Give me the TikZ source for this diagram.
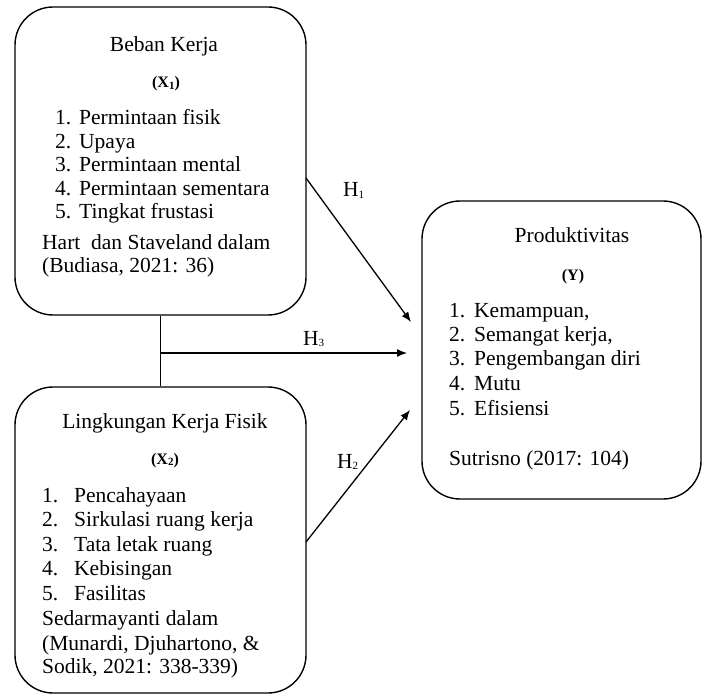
\documentclass[tikz,border=0pt]{standalone}
\usepackage{fontspec}
\setmainfont{Liberation Serif}
\usetikzlibrary{arrows.meta}
\newcommand\mysub[1]{\raisebox{-1.5pt}{\fontsize{11}{11}\selectfont #1}}
\begin{document}
\begin{tikzpicture}[x=1pt,y=-1pt,
  box/.style={draw, line width=1.4pt, rounded corners=38pt, inner sep=0pt},
  txt/.style={font=\fontsize{21.5}{24}\selectfont, inner sep=0pt, anchor=base west},
  ctr/.style={txt, anchor=base},
  lab/.style={font=\fontsize{16}{18}\selectfont\bfseries, inner sep=0pt, anchor=base},
  conn/.style={line width=1.3pt},
  arr/.style={conn, -{Latex[length=10pt,width=8pt]}}]
\useasboundingbox (0,0) rectangle (702,695);
% boxes
\node[box, minimum width=291pt, minimum height=308pt] (x1) at (160.5,161) {};
\node[box, minimum width=291pt, minimum height=306pt] (x2) at (160.5,540) {};
\node[box, minimum width=279pt, minimum height=298pt] (y) at (561.5,350) {};
% X1 text
\node[ctr] (x1t) at (164,52) {Beban Kerja};
\node[lab] (x1v) at (166,88) {(X\mysub{1})};
\foreach \t [count=\i] in {Permintaan fisik, Upaya, Permintaan mental, Permintaan sementara, Tingkat frustasi} {
  \node[txt] (x1n\i) at (55,{125+23.5*(\i-1)}) {\i.};
  \node[txt] (x1i\i) at (79,{125+23.5*(\i-1)}) {\t};
}
\node[txt] (x1c1) at (42,250) {Hart\ \ dan Staveland dalam};
\node[txt] (x1c2) at (42,273) {(Budiasa, 2021: 36)};
% X2 text
\node[ctr] (x2t) at (165,428) {Lingkungan Kerja Fisik};
\node[lab] (x2v) at (165,464) {(X\mysub{2})};
\foreach \t [count=\i] in {Pencahayaan, Sirkulasi ruang kerja, Tata letak ruang, Kebisingan, Fasilitas} {
  \node[txt] (x2n\i) at (42,{502+24.5*(\i-1)}) {\i.};
  \node[txt] (x2i\i) at (74,{502+24.5*(\i-1)}) {\t};
}
\node[txt] (x2c1) at (42,625) {Sedarmayanti dalam};
\node[txt] (x2c2) at (42,650) {(Munardi, Djuhartono, \&};
\node[txt] (x2c3) at (42,673) {Sodik, 2021: 338-339)};
% Y text
\node[ctr] (yt) at (572,243) {Produktivitas};
\node[lab] (yv) at (573,280) {(Y)};
\foreach \t [count=\i] in {{Kemampuan,}, {Semangat kerja,}, Pengembangan diri, Mutu, Efisiensi} {
  \node[txt] (yn\i) at (449,{317+24.5*(\i-1)}) {\i.};
  \node[txt] (yi\i) at (474,{317+24.5*(\i-1)}) {\t};
}
\node[txt] (yc) at (449,465) {Sutrisno (2017: 104)};
% hypothesis labels
\node[txt] (h1) at (343,197) {H\mysub{1}};
\node[txt] (h3) at (303,345) {H\mysub{3}};
\node[txt] (h2) at (337,468) {H\mysub{2}};
% connectors
\coordinate (j) at (160.5,353);
\coordinate (s1) at (306,178);
\coordinate (t1) at (411,322);
\coordinate (s2) at (306,542);
\coordinate (t2) at (410,410);
\coordinate (t3) at (407,353);
\draw[conn] (x1.south) -- (x2.north);
\draw[arr] (j) -- (t3);
\draw[arr] (s1) -- (t1);
\draw[arr] (s2) -- (t2);
\end{tikzpicture}
\end{document}
